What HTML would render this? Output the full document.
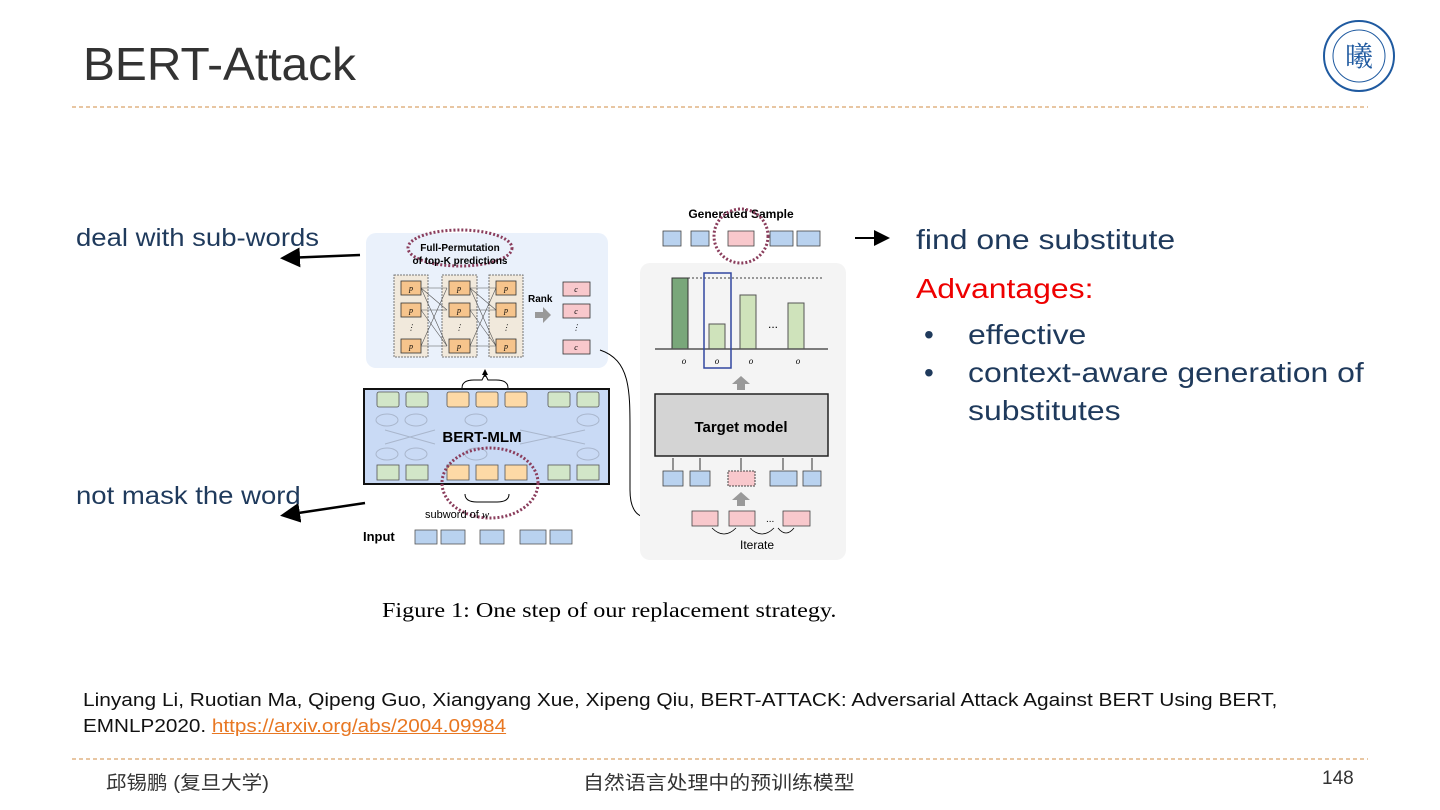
<!DOCTYPE html>
<html><head><meta charset="utf-8"><style>
body{margin:0;width:1440px;height:810px;background:#fff;position:relative;overflow:hidden;font-family:"Liberation Sans","Noto Sans CJK SC",sans-serif}
.t{position:absolute;white-space:nowrap;transform-origin:0 0}
.w{transform:scaleX(1.14)}
</style></head><body>
<div class="t" style="left:83px;top:37px;font-size:46px;color:#333;transform:scaleX(1.04)">BERT-Attack</div>
<svg width="1440" height="810" style="position:absolute;left:0;top:0">
<line x1="72" y1="107" x2="1368" y2="107" stroke="#d9a36a" stroke-width="1.3" stroke-dasharray="4,3"/>
<line x1="72" y1="759" x2="1368" y2="759" stroke="#d9a36a" stroke-width="1.3" stroke-dasharray="4,3"/>
<circle cx="1359" cy="56" r="35" fill="none" stroke="#1f5aa0" stroke-width="2"/>
<circle cx="1359" cy="56" r="26" fill="none" stroke="#1f5aa0" stroke-width="1"/>
<text x="1359" y="66" font-size="28" text-anchor="middle" fill="#1f5aa0" font-family="Noto Serif CJK SC">曦</text>
<defs><marker id="a" markerWidth="8" markerHeight="8" refX="6" refY="4" orient="auto"><path d="M0,0L8,4L0,8z" fill="#000"/></marker>
<marker id="s" markerWidth="6" markerHeight="6" refX="5" refY="3" orient="auto"><path d="M0,0L6,3L0,6z" fill="#000"/></marker></defs>
<line x1="360" y1="255" x2="285" y2="258" stroke="#000" stroke-width="2.5" marker-end="url(#a)"/>
<line x1="365" y1="503" x2="285" y2="515" stroke="#000" stroke-width="2.5" marker-end="url(#a)"/>
<line x1="855" y1="238" x2="886" y2="238" stroke="#000" stroke-width="2" marker-end="url(#a)"/>
<rect x="366" y="233" width="242" height="135" rx="10" fill="#eaf1fb"/>
<g stroke="#777" stroke-dasharray="2,1" fill="#f1e9dc"><rect x="394" y="275" width="34" height="82"/><rect x="442" y="275" width="35" height="82"/><rect x="489" y="275" width="34" height="82"/></g>
<g stroke="#555" stroke-width="0.6"><line x1="421" y1="288" x2="447" y2="288"/><line x1="421" y1="310" x2="447" y2="310"/><line x1="421" y1="346" x2="447" y2="346"/><line x1="421" y1="288" x2="447" y2="346"/><line x1="421" y1="346" x2="447" y2="288"/><line x1="421" y1="310" x2="447" y2="346"/><line x1="421" y1="288" x2="447" y2="310"/>
<line x1="470" y1="288" x2="496" y2="288"/><line x1="470" y1="310" x2="496" y2="310"/><line x1="470" y1="346" x2="496" y2="346"/><line x1="470" y1="288" x2="496" y2="346"/><line x1="470" y1="346" x2="496" y2="288"/><line x1="470" y1="310" x2="496" y2="346"/><line x1="470" y1="288" x2="496" y2="310"/></g>
<g fill="#f6c48c" stroke="#333" stroke-width="0.8">
<rect x="401" y="281" width="20" height="14"/><rect x="401" y="303" width="20" height="14"/><rect x="401" y="339" width="20" height="14"/>
<rect x="449" y="281" width="21" height="14"/><rect x="449" y="303" width="21" height="14"/><rect x="449" y="339" width="21" height="14"/>
<rect x="496" y="281" width="20" height="14"/><rect x="496" y="303" width="20" height="14"/><rect x="496" y="339" width="20" height="14"/></g>
<g font-size="8" font-family="Liberation Serif" font-style="italic" text-anchor="middle"><text x="411" y="291">p</text><text x="411" y="313">p</text><text x="411" y="349">p</text><text x="459" y="291">p</text><text x="459" y="313">p</text><text x="459" y="349">p</text><text x="506" y="291">p</text><text x="506" y="313">p</text><text x="506" y="349">p</text>
<text x="411" y="330">⋮</text><text x="459" y="330">⋮</text><text x="506" y="330">⋮</text><text x="576" y="330">⋮</text></g>
<ellipse cx="460" cy="248" rx="52" ry="18" fill="none" stroke="#8a3d5c" stroke-width="3" stroke-dasharray="2,2"/>
<text x="460" y="251" font-size="10" font-weight="bold" text-anchor="middle">Full-Permutation</text>
<text x="460" y="264" font-size="10" font-weight="bold" text-anchor="middle">of top-K predictions</text>
<text x="528" y="302" font-size="10" font-weight="bold">Rank</text>
<path d="M535,312h8v-5l8,8l-8,8v-5h-8z" fill="#999"/>
<g fill="#f8c8cc" stroke="#333" stroke-width="0.8"><rect x="563" y="282" width="27" height="14"/><rect x="563" y="304" width="27" height="14"/><rect x="563" y="340" width="27" height="14"/></g>
<g font-size="8" font-family="Liberation Serif" font-style="italic" text-anchor="middle"><text x="576" y="292">c</text><text x="576" y="314">c</text><text x="576" y="350">c</text></g>
<path d="M462,388q0,-8 12,-8h8l3,-6l3,6h8q12,0 12,8" fill="none" stroke="#000"/>
<line x1="485" y1="377" x2="485" y2="370" stroke="#000" marker-end="url(#s)"/>
<rect x="364" y="389" width="245" height="95" fill="#c9daf5" stroke="#111" stroke-width="2"/>
<g stroke="#555" stroke-width="0.8"><g fill="#d2e6c8"><rect x="377" y="392" width="22" height="15" rx="2"/><rect x="406" y="392" width="22" height="15" rx="2"/><rect x="548" y="392" width="22" height="15" rx="2"/><rect x="577" y="392" width="22" height="15" rx="2"/><rect x="377" y="465" width="22" height="15"/><rect x="406" y="465" width="22" height="15"/><rect x="548" y="465" width="22" height="15"/><rect x="577" y="465" width="22" height="15"/></g>
<g fill="#fdd9a6"><rect x="447" y="392" width="22" height="15" rx="2"/><rect x="476" y="392" width="22" height="15" rx="2"/><rect x="505" y="392" width="22" height="15" rx="2"/><rect x="447" y="465" width="22" height="15"/><rect x="476" y="465" width="22" height="15"/><rect x="505" y="465" width="22" height="15"/></g></g>
<g fill="none" stroke="#a9b6cc"><ellipse cx="387" cy="420" rx="11" ry="6"/><ellipse cx="416" cy="420" rx="11" ry="6"/><ellipse cx="476" cy="420" rx="11" ry="6"/><ellipse cx="588" cy="420" rx="11" ry="6"/><ellipse cx="387" cy="454" rx="11" ry="6"/><ellipse cx="416" cy="454" rx="11" ry="6"/><ellipse cx="476" cy="454" rx="11" ry="6"/><ellipse cx="588" cy="454" rx="11" ry="6"/><path d="M385,430l50,14M385,444l50,-14M520,430l65,14M520,444l65,-14"/></g>
<text x="482" y="442" font-size="15" font-weight="bold" text-anchor="middle">BERT-MLM</text>
<ellipse cx="490" cy="483" rx="48" ry="35" fill="none" stroke="#8a3d5c" stroke-width="3" stroke-dasharray="2,2"/>
<path d="M465,494q0,8 12,8h20q12,0 12,-8" fill="none" stroke="#000"/>
<text x="425" y="518" font-size="11">subword of <tspan font-style="italic" font-family="Liberation Serif">w</tspan></text>
<text x="363" y="541" font-size="13" font-weight="bold">Input</text>
<g fill="#b9d2ef" stroke="#555" stroke-width="0.8"><rect x="415" y="530" width="22" height="14"/><rect x="441" y="530" width="24" height="14"/><rect x="480" y="530" width="24" height="14"/><rect x="520" y="530" width="26" height="14"/><rect x="550" y="530" width="22" height="14"/></g>
<path d="M600,350c30,10 30,40 30,80v60c0,25 10,30 35,30" fill="none" stroke="#000" marker-end="url(#s)"/>
<rect x="640" y="263" width="206" height="297" rx="10" fill="#f4f4f4"/>
<text x="741" y="218" font-size="12" font-weight="bold" text-anchor="middle">Generated Sample</text>
<g stroke="#444" stroke-width="0.8"><g fill="#b9d2ef"><rect x="663" y="231" width="18" height="15"/><rect x="691" y="231" width="18" height="15"/><rect x="770" y="231" width="23" height="15"/><rect x="797" y="231" width="23" height="15"/></g><rect x="728" y="231" width="26" height="15" fill="#f8c8cc"/></g>
<circle cx="741" cy="236" r="27" fill="none" stroke="#8a3d5c" stroke-width="3" stroke-dasharray="2,2"/>
<line x1="672" y1="278" x2="822" y2="278" stroke="#000" stroke-dasharray="2,2" stroke-width="0.8"/>
<rect x="672" y="278" width="16" height="71" fill="#79a77a" stroke="#333"/>
<rect x="709" y="324" width="16" height="25" fill="#cfe3bb" stroke="#555"/>
<rect x="740" y="295" width="16" height="54" fill="#cfe3bb" stroke="#555"/>
<rect x="788" y="303" width="16" height="46" fill="#cfe3bb" stroke="#555"/>
<line x1="655" y1="349" x2="828" y2="349" stroke="#555" stroke-width="1.5"/>
<text x="768" y="328" font-size="12">...</text>
<rect x="704" y="273" width="27" height="95" fill="none" stroke="#3247a0" stroke-width="1.5"/>
<g font-size="9" font-family="Liberation Serif" font-style="italic" text-anchor="middle"><text x="684" y="364">o</text><text x="717" y="364">o</text><text x="751" y="364">o</text><text x="798" y="364">o</text></g>
<path d="M737,390v-6h-5l9,-8l9,8h-5v6z" fill="#999"/>
<rect x="655" y="394" width="173" height="62" fill="#d4d4d4" stroke="#222" stroke-width="1.5"/>
<text x="741" y="432" font-size="15" font-weight="bold" text-anchor="middle">Target model</text>
<g fill="#b9d2ef" stroke="#444" stroke-width="0.8"><rect x="663" y="471" width="20" height="15"/><rect x="690" y="471" width="20" height="15"/><rect x="770" y="471" width="27" height="15"/><rect x="803" y="471" width="18" height="15"/></g>
<rect x="728" y="471" width="27" height="15" fill="#f8c8cc" stroke="#444" stroke-dasharray="2,1"/>
<g stroke="#000" stroke-width="0.8"><line x1="673" y1="470" x2="673" y2="458"/><line x1="700" y1="470" x2="700" y2="458"/><line x1="741" y1="470" x2="741" y2="458"/><line x1="783" y1="470" x2="783" y2="458"/><line x1="812" y1="470" x2="812" y2="458"/></g>
<path d="M737,506v-6h-5l9,-8l9,8h-5v6z" fill="#999"/>
<g fill="#f8c8cc" stroke="#444" stroke-width="0.8"><rect x="692" y="511" width="26" height="15"/><rect x="729" y="511" width="26" height="15"/><rect x="783" y="511" width="27" height="15"/></g>
<text x="766" y="522" font-size="10">...</text>
<path d="M712,528q12,12 24,0M750,528q12,12 24,0M778,528q8,10 16,0" fill="none" stroke="#000" stroke-width="0.8"/>
<text x="757" y="549" font-size="12" text-anchor="middle">Iterate</text>
</svg>
<div class="t w" style="left:76px;top:224px;font-size:25px;color:#1f3a5c;transform:scaleX(1.1)">deal with sub-words</div>
<div class="t w" style="left:76px;top:482px;font-size:25px;color:#1f3a5c;transform:scaleX(1.1)">not mask the word</div>
<div class="t w" style="left:916px;top:224px;font-size:28px;color:#1f3a5c">find one substitute</div>
<div class="t w" style="left:916px;top:273px;font-size:28px;color:#e00">Advantages:</div>
<div class="t" style="left:924px;top:319px;font-size:28px;color:#1f3a5c">•</div><div class="t w" style="left:968px;top:319px;font-size:28px;color:#1f3a5c">effective</div>
<div class="t" style="left:924px;top:357px;font-size:28px;color:#1f3a5c">•</div><div class="t w" style="left:968px;top:357px;font-size:28px;color:#1f3a5c">context-aware generation of</div>
<div class="t w" style="left:968px;top:395px;font-size:28px;color:#1f3a5c">substitutes</div>
<div class="t" style="left:382px;top:598px;font-size:21px;font-family:'Liberation Serif',serif;transform:scaleX(1.15)">Figure 1: One step of our replacement strategy.</div>
<div class="t" style="left:83px;top:690px;font-size:18px;color:#111;transform:scaleX(1.16)">Linyang Li, Ruotian Ma, Qipeng Guo, Xiangyang Xue, Xipeng Qiu, BERT-ATTACK: Adversarial Attack Against BERT Using BERT,</div>
<div class="t" style="left:83px;top:716px;font-size:18px;color:#111;transform:scaleX(1.15)">EMNLP2020. <span style="color:#e87722;text-decoration:underline">https://arxiv.org/abs/2004.09984</span></div>
<div class="t" style="left:106px;top:768px;font-size:19px;color:#333;transform:scaleX(1.08)">邱锡鹏 (复旦大学)</div>
<div class="t" style="left:583px;top:768px;font-size:19px;color:#333;transform:scaleX(1.1)">自然语言处理中的预训练模型</div>
<div class="t" style="left:1322px;top:768px;font-size:19px;color:#333">148</div>
</body></html>
